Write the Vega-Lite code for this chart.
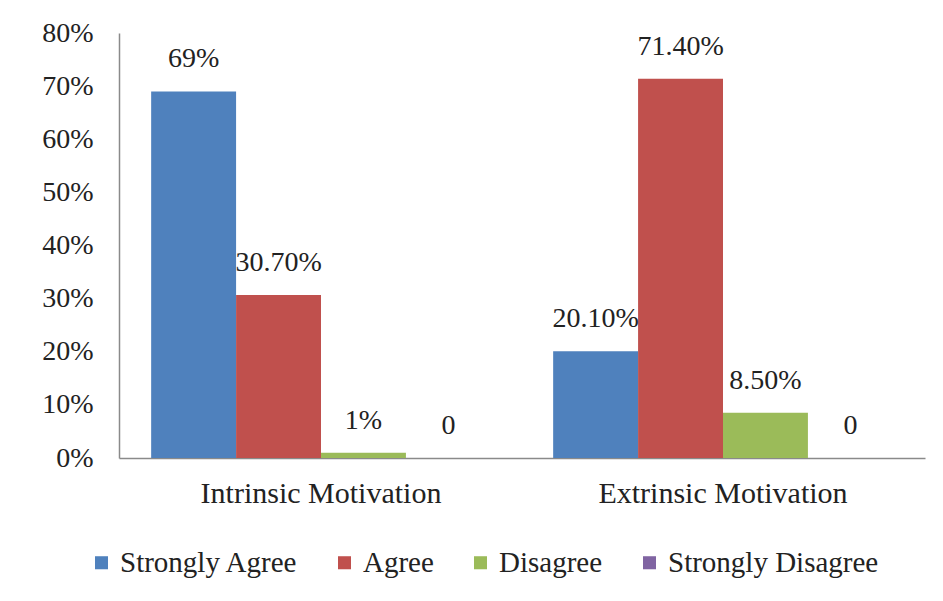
{
  "$schema": "https://vega.github.io/schema/vega-lite/v6.json",
  "width": 806,
  "height": 425,
  "autosize": {"type": "none"},
  "padding": {"left": 119, "top": 33, "right": 18, "bottom": 143},
  "background": "white",
  "config": {
    "view": {"stroke": null},
    "font": "Liberation Serif",
    "axis": {"labelFont": "Liberation Serif", "labelColor": "#222222", "domainColor": "#8a8a8a", "domainWidth": 1.5, "grid": false, "ticks": false, "title": null, "labelOverlap": false, "labelLimit": 0},
    "legend": {"labelFont": "Liberation Serif", "labelColor": "#222222", "labelLimit": 0}
  },
  "data": {
    "values": [
      {"motivation": "Intrinsic Motivation", "response": "Strongly Agree", "value": 0.69, "label": "69%"},
      {"motivation": "Intrinsic Motivation", "response": "Agree", "value": 0.307, "label": "30.70%"},
      {"motivation": "Intrinsic Motivation", "response": "Disagree", "value": 0.01, "label": "1%"},
      {"motivation": "Intrinsic Motivation", "response": "Strongly Disagree", "value": 0, "label": "0"},
      {"motivation": "Extrinsic Motivation", "response": "Strongly Agree", "value": 0.201, "label": "20.10%"},
      {"motivation": "Extrinsic Motivation", "response": "Agree", "value": 0.714, "label": "71.40%"},
      {"motivation": "Extrinsic Motivation", "response": "Disagree", "value": 0.085, "label": "8.50%"},
      {"motivation": "Extrinsic Motivation", "response": "Strongly Disagree", "value": 0, "label": "0"}
    ]
  },
  "encoding": {
    "x": {
      "field": "motivation",
      "type": "nominal",
      "sort": ["Intrinsic Motivation", "Extrinsic Motivation"],
      "scale": {"paddingInner": 0.155, "paddingOuter": 0.08},
      "axis": {"labelAngle": 0, "labelFontSize": 30, "labelPadding": 20}
    },
    "xOffset": {
      "field": "response",
      "type": "nominal",
      "sort": ["Strongly Agree", "Agree", "Disagree", "Strongly Disagree"]
    },
    "y": {
      "field": "value",
      "type": "quantitative",
      "scale": {"domain": [0, 0.8]},
      "axis": {"format": ".0%", "values": [0, 0.1, 0.2, 0.3, 0.4, 0.5, 0.6, 0.7, 0.8], "labelFontSize": 28, "labelPadding": 26}
    }
  },
  "layer": [
    {
      "mark": {"type": "bar"},
      "encoding": {
        "color": {
          "field": "response",
          "type": "nominal",
          "sort": ["Strongly Agree", "Agree", "Disagree", "Strongly Disagree"],
          "scale": {"domain": ["Strongly Agree", "Agree", "Disagree", "Strongly Disagree"], "range": ["#4F81BD", "#C0504D", "#9BBB59", "#8064A2"]},
          "legend": {
            "title": null,
            "orient": "none",
            "legendX": -32,
            "legendY": 515,
            "direction": "horizontal",
            "symbolType": "square",
            "symbolSize": 170,
            "symbolStrokeWidth": 0,
            "labelFontSize": 29,
            "labelOffset": 4,
            "columnPadding": 32
          }
        }
      }
    },
    {
      "mark": {"type": "text", "baseline": "middle", "align": "center", "dy": -32, "fontSize": 28, "font": "Liberation Serif", "color": "#222222"},
      "encoding": {"text": {"field": "label", "type": "nominal"}}
    }
  ]
}
